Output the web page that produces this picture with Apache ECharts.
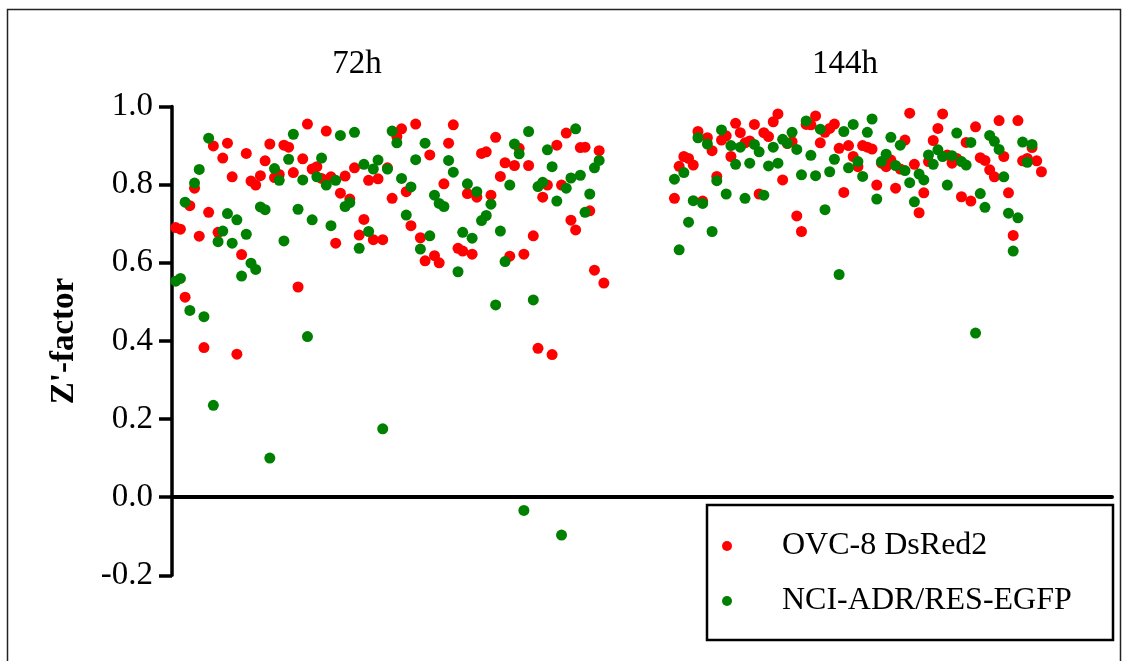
<!DOCTYPE html>
<html>
<head>
<meta charset="utf-8">
<title>Z'-factor</title>
<script src="https://cdn.jsdelivr.net/npm/echarts@6/dist/echarts.min.js"></script>
<style>
  html, body { margin: 0; padding: 0; background: #fff; }
  #chart { width: 1128px; height: 661px; }
</style>
</head>
<body>
<div id="chart"></div>
<script>
// Z'-factor per plate, in screening order, for each reporter line
const groupLabels = ['72h', '144h'];
const seriesNames = ['OVC-8 DsRed2', 'NCI-ADR/RES-EGFP'];
const yTicks = [-0.2, 0.0, 0.2, 0.4, 0.6, 0.8, 1.0];

const red72 = [
  0.690, 0.686, 0.512, 0.746, 0.791, 0.668, 0.383, 0.729, 0.899, 0.678,
  0.868, 0.906, 0.820, 0.366, 0.621, 0.880, 0.809, 0.799, 0.823, 0.861,
  0.904, 0.818, 0.826, 0.901, 0.896, 0.831, 0.538, 0.866, 0.955, 0.840,
  0.846, 0.816, 0.937, 0.820, 0.650, 0.778, 0.822, 0.763, 0.843, 0.671,
  0.711, 0.811, 0.659, 0.815, 0.659, 0.843, 0.765, 0.923, 0.943, 0.782,
  0.695, 0.955, 0.664, 0.605, 0.876, 0.618, 0.600, 0.802, 0.906, 0.953,
  0.637, 0.630, 0.777, 0.622, 0.768, 0.880, 0.884, 0.773, 0.921, 0.821,
  0.856, 0.617, 0.849, 0.893, 0.622, 0.849, 0.669, 0.381, 0.768, 0.799,
  0.365, 0.901, 0.799, 0.932, 0.709, 0.684, 0.895, 0.896, 0.733, 0.581,
  0.887, 0.548
];

const green72 = [
  0.553, 0.560, 0.755, 0.478, 0.804, 0.839, 0.462, 0.919, 0.235, 0.654,
  0.681, 0.726, 0.650, 0.710, 0.566, 0.673, 0.599, 0.583, 0.743, 0.736,
  0.100, 0.841, 0.811, 0.656, 0.865, 0.929, 0.737, 0.812, 0.411, 0.710,
  0.820, 0.868, 0.799, 0.695, 0.811, 0.926, 0.744, 0.754, 0.934, 0.637,
  0.852, 0.680, 0.840, 0.863, 0.175, 0.840, 0.937, 0.907, 0.816, 0.722,
  0.794, 0.864, 0.635, 0.906, 0.669, 0.773, 0.752, 0.744, 0.862, 0.832,
  0.577, 0.678, 0.802, 0.663, 0.782, 0.708, 0.721, 0.750, 0.492, 0.681,
  0.603, 0.799, 0.904, 0.879, -0.034, 0.936, 0.505, 0.795, 0.806, 0.889,
  0.846, 0.758, -0.097, 0.791, 0.817, 0.943, 0.824, 0.729, 0.776, 0.843,
  0.862
];

const red144 = [
  0.765, 0.847, 0.872, 0.867, 0.850, 0.936, 0.758, 0.920, 0.887, 0.821,
  0.914, 0.925, 0.872, 0.957, 0.933, 0.907, 0.912, 0.954, 0.776, 0.933,
  0.923, 0.961, 0.981, 0.812, 0.905, 0.910, 0.720, 0.680, 0.954, 0.953,
  0.976, 0.907, 0.934, 0.944, 0.955, 0.893, 0.780, 0.900, 0.872, 0.846,
  0.900, 0.896, 0.891, 0.799, 0.855, 0.846, 0.863, 0.791, 0.840, 0.914,
  0.983, 0.852, 0.728, 0.779, 0.859, 0.913, 0.944, 0.981, 0.876, 0.855,
  0.867, 0.769, 0.908, 0.758, 0.948, 0.869, 0.862, 0.838, 0.820, 0.964,
  0.872, 0.779, 0.670, 0.964, 0.861, 0.867, 0.895, 0.861, 0.833
];

const green144 = [
  0.814, 0.633, 0.831, 0.704, 0.759, 0.920, 0.752, 0.904, 0.680, 0.810,
  0.940, 0.776, 0.900, 0.852, 0.896, 0.765, 0.855, 0.903, 0.884, 0.773,
  0.848, 0.896, 0.855, 0.916, 0.906, 0.934, 0.890, 0.825, 0.963, 0.875,
  0.823, 0.942, 0.736, 0.833, 0.865, 0.570, 0.936, 0.843, 0.954, 0.859,
  0.821, 0.934, 0.968, 0.763, 0.859, 0.878, 0.921, 0.849, 0.901, 0.836,
  0.805, 0.756, 0.827, 0.812, 0.876, 0.852, 0.889, 0.872, 0.799, 0.874,
  0.932, 0.859, 0.850, 0.908, 0.420, 0.777, 0.742, 0.926, 0.911, 0.890,
  0.820, 0.727, 0.630, 0.715, 0.909, 0.857, 0.903
];

// plate index where the 144h run starts on the shared x scale
const START_144 = 106;

const FONT = '"Liberation Serif", "Times New Roman", serif';
const RED = '#ff0000';
const GREEN = '#008000';

function toPoints(first, second) {
  return first.map((v, i) => [i, v])
    .concat(second.map((v, i) => [START_144 + i, v]));
}

const chart = echarts.init(document.getElementById('chart'), null, { renderer: 'canvas' });

chart.setOption({
  animation: false,
  backgroundColor: '#fff',
  grid: { left: 172, right: 16, top: 106.5, bottom: 85.7, containLabel: false },
  xAxis: {
    type: 'value',
    min: -0.79,
    max: 199,
    axisLine: { show: true, onZero: true, lineStyle: { color: '#000', width: 4 } },
    axisTick: { show: false },
    axisLabel: { show: false },
    splitLine: { show: false }
  },
  yAxis: {
    type: 'value',
    min: yTicks[0],
    max: yTicks[yTicks.length - 1],
    interval: 0.2,
    axisLine: { show: true, onZero: false, lineStyle: { color: '#000', width: 3.5 } },
    axisTick: { show: true, inside: false, length: 13, lineStyle: { color: '#000', width: 3.5 } },
    axisLabel: {
      margin: 19,
      color: '#000',
      fontFamily: FONT,
      fontSize: 33,
      formatter: v => v.toFixed(1)
    },
    splitLine: { show: false }
  },
  series: [
    {
      name: seriesNames[0],
      type: 'scatter',
      symbol: 'circle',
      symbolSize: 11,
      itemStyle: { color: RED, opacity: 1 },
      emphasis: { disabled: true },
      data: toPoints(red72, red144)
    },
    {
      name: seriesNames[1],
      type: 'scatter',
      symbol: 'circle',
      symbolSize: 11,
      itemStyle: { color: GREEN, opacity: 1 },
      emphasis: { disabled: true },
      data: toPoints(green72, green144)
    }
  ],
  graphic: [
    // outer frame
    {
      type: 'rect', z: 10,
      shape: { x: 7.5, y: 9.5, width: 1113, height: 670 },
      style: { fill: 'none', stroke: '#222', lineWidth: 1.5 }
    },
    // y-axis title
    {
      type: 'text', z: 10,
      x: 64, y: 341, rotation: Math.PI / 2,
      style: {
        text: "Z'-factor", fill: '#000', font: 'bold 33px ' + FONT,
        textAlign: 'center', textVerticalAlign: 'middle'
      }
    },
    // time point headers
    {
      type: 'text', z: 10, x: 357, y: 64,
      style: { text: groupLabels[0], fill: '#000', font: '33px ' + FONT, textAlign: 'center', textVerticalAlign: 'middle' }
    },
    {
      type: 'text', z: 10, x: 845, y: 64,
      style: { text: groupLabels[1], fill: '#000', font: '33px ' + FONT, textAlign: 'center', textVerticalAlign: 'middle' }
    },
    // legend
    {
      type: 'rect', z: 10,
      shape: { x: 707, y: 505, width: 406, height: 135 },
      style: { fill: '#fff', stroke: '#000', lineWidth: 2.5 }
    },
    { type: 'circle', z: 11, shape: { cx: 727, cy: 546, r: 5 }, style: { fill: RED } },
    { type: 'circle', z: 11, shape: { cx: 727, cy: 601, r: 5 }, style: { fill: GREEN } },
    {
      type: 'text', z: 11, x: 782, y: 546,
      style: { text: seriesNames[0], fill: '#000', font: '32px ' + FONT, textAlign: 'left', textVerticalAlign: 'middle' }
    },
    {
      type: 'text', z: 11, x: 782, y: 601,
      style: { text: seriesNames[1], fill: '#000', font: '32px ' + FONT, textAlign: 'left', textVerticalAlign: 'middle' }
    }
  ]
});
</script>
</body>
</html>
